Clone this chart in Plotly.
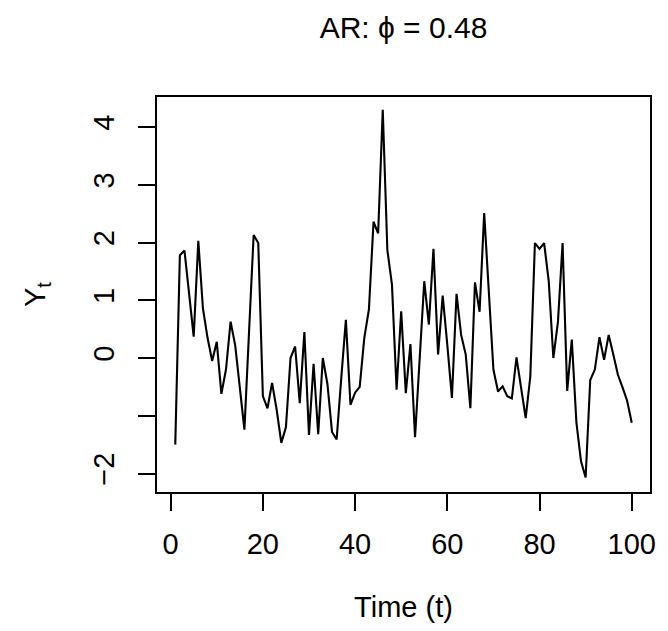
import plotly.graph_objects as go

t_vals = list(range(1, 101))
y_vals = [
    -1.50, 1.78, 1.86, 1.12, 0.37, 2.03, 0.86, 0.35, -0.05, 0.28,
    -0.62, -0.20, 0.63, 0.22, -0.50, -1.24, 0.45, 2.13, 1.99, -0.66,
    -0.87, -0.43, -0.90, -1.47, -1.20, 0.00, 0.20, -0.78, 0.45, -1.33,
    -0.10, -1.32, 0.00, -0.45, -1.28, -1.41, -0.35, 0.66, -0.81, -0.60,
    -0.50, 0.35, 0.84, 2.36, 2.16, 4.30, 1.87, 1.27, -0.55, 0.81,
    -0.61, 0.24, -1.37, -0.10, 1.33, 0.58, 1.89, 0.06, 1.08, 0.23,
    -0.69, 1.11, 0.40, 0.06, -0.87, 1.31, 0.80, 2.51, 1.15, -0.20,
    -0.58, -0.49, -0.66, -0.70, 0.01, -0.52, -1.04, -0.32, 1.99, 1.89,
    1.99, 1.33, 0.00, 0.63, 1.99, -0.57, 0.32, -1.12, -1.79, -2.07,
    -0.38, -0.20, 0.36, -0.03, 0.40, 0.06, -0.29, -0.51, -0.74, -1.12,
]
x_ticks = [0, 20, 40, 60, 80, 100]
y_ticks = [-2, 0, 1, 2, 3, 4]
y_tick_text = ["\u22122", "0", "1", "2", "3", "4"]
y_unlabeled_ticks = [-1]

FONT = "Liberation Sans, Arial, Helvetica, sans-serif"

fig = go.Figure()
fig.add_trace(go.Scatter(
    x=t_vals, y=y_vals, mode="lines",
    line=dict(color="black", width=2.1),
    hoverinfo="skip", showlegend=False,
))

fig.update_layout(
    width=668, height=631,
    margin=dict(l=157, r=12, t=97, b=139),
    paper_bgcolor="white", plot_bgcolor="white",
    font=dict(family=FONT, color="black", size=29),
    title=dict(text="AR: \u03d5 = 0.48", x=0.5, xanchor="center", xref="paper",
               y=1 - 27 / 631, yanchor="middle", yref="container",
               font=dict(size=30, family=FONT, color="black")),
    xaxis=dict(
        range=[-2.96, 103.96], tickvals=x_ticks,
        showgrid=False, zeroline=False,
        showline=True, mirror=True, linecolor="black", linewidth=1.5,
        ticks="outside", ticklen=17, tickwidth=1.5, tickcolor="black",
        ticklabelstandoff=8,
        tickfont=dict(size=29, family=FONT),
        title=dict(text="Time (t)", standoff=38, font=dict(size=29, family=FONT)),
    ),
    yaxis=dict(
        range=[-2.32, 4.52], tickmode="array", tickvals=y_ticks, ticktext=y_tick_text,
        tickangle=-90,
        showgrid=False, zeroline=False,
        showline=True, mirror=True, linecolor="black", linewidth=1.5,
        ticks="outside", ticklen=17, tickwidth=1.5, tickcolor="black",
        ticklabelstandoff=13,
        tickfont=dict(size=29, family=FONT),
        minor=dict(tickmode="array", tickvals=y_unlabeled_ticks, ticks="outside",
                   ticklen=17, tickwidth=1.5, tickcolor="black", showgrid=False),
        title=dict(text="Y<sub>t</sub>", standoff=34, font=dict(size=29, family=FONT)),
    ),
)

fig.write_html("out.html")
